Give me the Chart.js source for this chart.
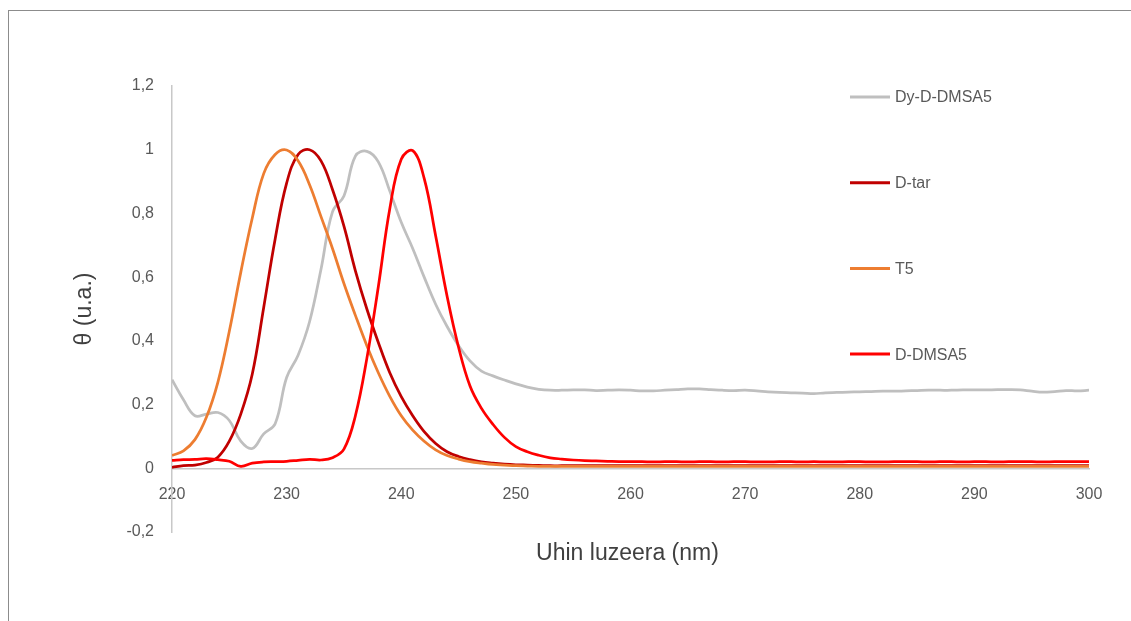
<!DOCTYPE html>
<html>
<head>
<meta charset="utf-8">
<script src="https://cdn.jsdelivr.net/npm/chart.js@4"></script>
<style>
  html, body { margin: 0; padding: 0; background: #fff; }
  #frame { position: absolute; left: 8px; top: 10px; right: 0; bottom: 0;
           border-top: 1px solid #8c8c8c; border-left: 1px solid #8c8c8c; }
  #plot { position: absolute; left: 0; top: 0; }
</style>
</head>
<body>
<div id="frame"></div>
<canvas id="plot" width="1131" height="621"></canvas>
<script>
// wavelength (nm)
const wavelengths = [
  220, 221, 222, 223, 224, 225, 226, 227, 228, 229,
  230, 231, 232, 233, 234, 235, 236, 237, 238, 239,
  240, 241, 242, 243, 244, 245, 246, 247, 248, 249,
  250, 251, 252, 253, 254, 255, 256, 257, 258, 259,
  260, 261, 262, 263, 264, 265, 266, 267, 268, 269,
  270, 271, 272, 273, 274, 275, 276, 277, 278, 279,
  280, 281, 282, 283, 284, 285, 286, 287, 288, 289,
  290, 291, 292, 293, 294, 295, 296, 297, 298, 299,
  300
];

const seriesNames = ['Dy-D-DMSA5', 'D-tar', 'T5', 'D-DMSA5'];
const seriesColors = ['#BFBFBF', '#C00000', '#ED7D31', '#FF0000'];

const dyDDMSA5 = [
  0.278, 0.215, 0.165, 0.170, 0.175, 0.150, 0.085, 0.062, 0.108, 0.140,
  0.285, 0.355, 0.460, 0.625, 0.805, 0.855, 0.980, 0.995, 0.962, 0.870,
  0.772, 0.690, 0.600, 0.515, 0.445, 0.385, 0.337, 0.305, 0.290, 0.277,
  0.265, 0.255, 0.248, 0.245, 0.245, 0.246, 0.246, 0.244, 0.245, 0.246,
  0.245, 0.243, 0.243, 0.245, 0.247, 0.249, 0.249, 0.247, 0.245, 0.244,
  0.245, 0.243, 0.240, 0.238, 0.237, 0.236, 0.234, 0.237, 0.238, 0.239,
  0.240, 0.241, 0.242, 0.242, 0.243, 0.244, 0.245, 0.245, 0.245, 0.246,
  0.246, 0.246, 0.247, 0.247, 0.246, 0.242, 0.239, 0.241, 0.244, 0.243,
  0.245
];

const dTar = [
  0.003, 0.008, 0.010, 0.018, 0.035, 0.085, 0.170, 0.295, 0.505, 0.720,
  0.895, 0.985, 1.000, 0.965, 0.875, 0.760, 0.620, 0.500, 0.395, 0.300,
  0.225, 0.165, 0.115, 0.078, 0.052, 0.037, 0.027, 0.020, 0.016, 0.013,
  0.011, 0.010, 0.009, 0.008, 0.008, 0.008, 0.008, 0.008, 0.008, 0.008,
  0.008, 0.008, 0.008, 0.008, 0.008, 0.008, 0.008, 0.008, 0.008, 0.008,
  0.008, 0.008, 0.008, 0.008, 0.008, 0.008, 0.008, 0.008, 0.008, 0.008,
  0.008, 0.008, 0.008, 0.008, 0.008, 0.008, 0.008, 0.008, 0.008, 0.008,
  0.008, 0.008, 0.008, 0.008, 0.008, 0.008, 0.008, 0.008, 0.008, 0.008,
  0.008
];

const t5 = [
  0.040, 0.055, 0.090, 0.160, 0.270, 0.430, 0.615, 0.785, 0.925, 0.985,
  0.999, 0.965, 0.890, 0.790, 0.690, 0.580, 0.480, 0.385, 0.300, 0.226,
  0.165, 0.120, 0.085, 0.058, 0.040, 0.029, 0.021, 0.016, 0.012, 0.010,
  0.008, 0.007, 0.006, 0.006, 0.006, 0.006, 0.006, 0.006, 0.006, 0.006,
  0.006, 0.006, 0.006, 0.006, 0.006, 0.006, 0.006, 0.006, 0.006, 0.006,
  0.006, 0.006, 0.006, 0.006, 0.006, 0.006, 0.006, 0.006, 0.006, 0.006,
  0.006, 0.006, 0.006, 0.006, 0.006, 0.006, 0.006, 0.006, 0.006, 0.006,
  0.006, 0.006, 0.006, 0.006, 0.006, 0.006, 0.006, 0.006, 0.006, 0.006,
  0.006
];

const dDMSA5 = [
  0.025, 0.027, 0.028, 0.030, 0.027, 0.022, 0.006, 0.016, 0.020, 0.021,
  0.022, 0.025, 0.028, 0.026, 0.033, 0.060, 0.165, 0.345, 0.570, 0.815,
  0.970, 0.997, 0.910, 0.730, 0.540, 0.380, 0.258, 0.188, 0.138, 0.097,
  0.068, 0.052, 0.041, 0.033, 0.029, 0.026, 0.024, 0.023, 0.022, 0.021,
  0.021, 0.021, 0.020, 0.021, 0.021, 0.020, 0.021, 0.021, 0.020, 0.021,
  0.021, 0.020, 0.020, 0.021, 0.021, 0.020, 0.021, 0.020, 0.020, 0.021,
  0.021, 0.020, 0.020, 0.021, 0.021, 0.021, 0.020, 0.021, 0.021, 0.020,
  0.021, 0.021, 0.020, 0.021, 0.021, 0.021, 0.020, 0.021, 0.021, 0.021,
  0.021
];

const seriesValues = [dyDDMSA5, dTar, t5, dDMSA5];

const yMin = -0.2, yMax = 1.2, yStep = 0.2;
const yTickLabels = ['-0,2', '0', '0,2', '0,4', '0,6', '0,8', '1', '1,2'];
const xMin = 220, xMax = 300, xStep = 10;

const xTitle = 'Uhin luzeera (nm)';
const yTitle = 'θ (u.a.)';

Chart.defaults.font.family = '"Liberation Sans", Arial, sans-serif';
Chart.defaults.color = '#595959';

// legend on the right side + x-axis title below the plot
const sideText = {
  id: 'sideText',
  afterDraw(chart) {
    const ctx = chart.ctx;
    const area = chart.chartArea;
    ctx.save();
    ctx.font = '16px "Liberation Sans", Arial, sans-serif';
    ctx.textBaseline = 'middle';
    ctx.textAlign = 'left';
    seriesNames.forEach((name, i) => {
      const y = 97 + i * 85.7;
      ctx.strokeStyle = seriesColors[i];
      ctx.lineWidth = 3;
      ctx.beginPath();
      ctx.moveTo(850, y);
      ctx.lineTo(890, y);
      ctx.stroke();
      ctx.fillStyle = '#595959';
      ctx.fillText(name, 895, y + 1);
    });
    ctx.font = '23px "Liberation Sans", Arial, sans-serif';
    ctx.fillStyle = '#404040';
    ctx.textAlign = 'center';
    ctx.fillText(xTitle, (area.left + area.right) / 2 - 3, 554);
    ctx.restore();
  }
};

new Chart(document.getElementById('plot'), {
  type: 'line',
  data: {
    datasets: seriesNames.map((name, i) => ({
      label: name,
      data: wavelengths.map((w, j) => ({ x: w, y: seriesValues[i][j] })),
      borderColor: seriesColors[i],
      borderWidth: 2.75,
      pointRadius: 0,
      tension: 0.4,
      fill: false,
      order: seriesNames.length - i
    }))
  },
  options: {
    responsive: false,
    devicePixelRatio: 1,
    animation: false,
    layout: { padding: { left: 0, top: 86, right: 42, bottom: 89 } },
    plugins: {
      legend: { display: false },
      tooltip: { enabled: false }
    },
    scales: {
      x: {
        type: 'linear',
        position: { y: 0 },
        min: xMin,
        max: xMax,
        grid: { display: false, drawTicks: false },
        border: { display: true, color: '#C8C8C8', width: 1.5 },
        ticks: {
          stepSize: xStep,
          padding: 17,
          font: { size: 16 },
          maxRotation: 0
        }
      },
      y: {
        type: 'linear',
        position: 'left',
        min: yMin,
        max: yMax,
        grid: { display: false, drawTicks: false },
        border: { display: true, color: '#C8C8C8', width: 1.5 },
        ticks: {
          stepSize: yStep,
          padding: 18,
          font: { size: 16 },
          callback: v => yTickLabels[Math.round((v - yMin) / yStep)]
        },
        title: {
          display: true,
          text: yTitle,
          color: '#404040',
          font: { size: 23 },
          padding: { top: 71, bottom: 0 }
        },
        afterFit: s => { s.width = 172; }
      }
    }
  },
  plugins: [sideText]
});
</script>
</body>
</html>
